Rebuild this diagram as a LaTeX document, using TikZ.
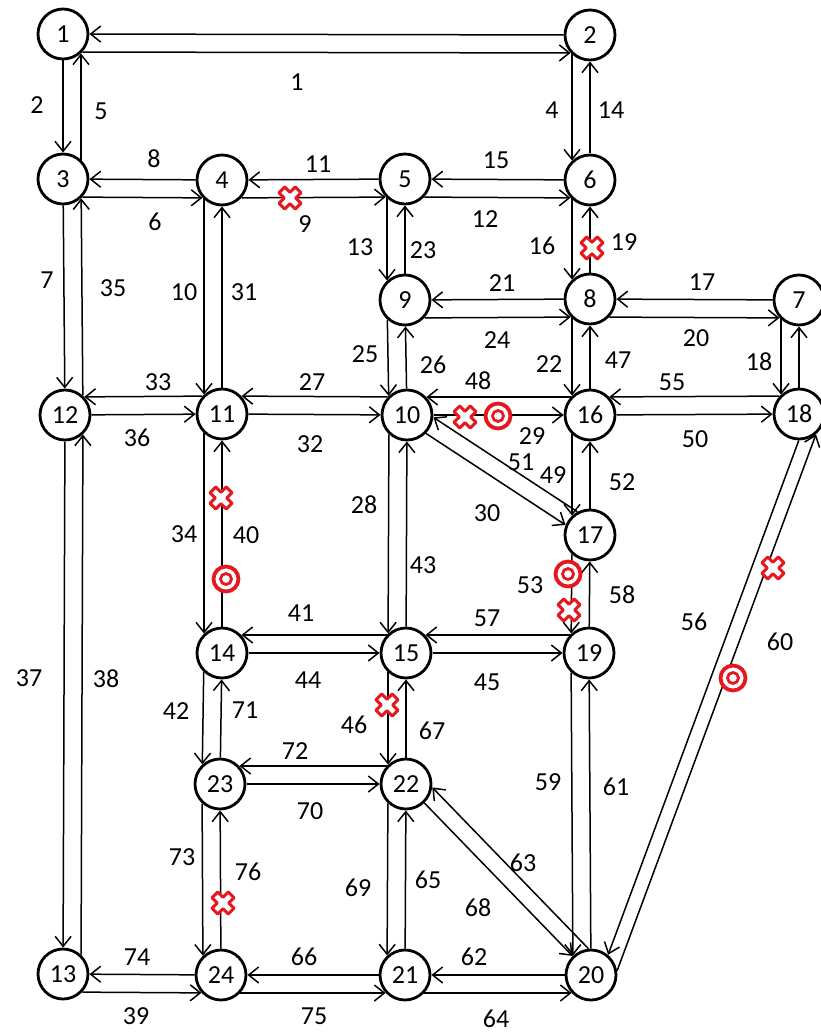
\documentclass[tikz,border=0pt]{standalone}
\usepackage{fontspec}
\setmainfont{Carlito}
\usetikzlibrary{calc,arrows.meta}
\definecolor{mk}{RGB}{228,24,30}
\newcommand\myR{26.5}
\newcommand\lnk[3]{%
  \pgfmathsetmacro\myS{sqrt(\myR*\myR-(#3)*(#3))}%
  \draw[lk] ($($(#1)!\myS pt!(#2)$)!#3pt!-90:(#2)$) -- ($($(#2)!\myS pt!(#1)$)!#3pt!90:(#1)$);}
\newcommand\pairlink[4]{\lnk{#1}{#2}{#3}\lnk{#2}{#1}{#4}}
\newcommand\xmk[2]{\begin{scope}[shift={(#1,#2)},rotate=45]
  \draw[draw=mk,line width=3pt,fill=white,line join=round] (4,4)--(11.5,4)--(11.5,-4)--(4,-4)--(4,-11.5)--(-4,-11.5)--(-4,-4)--(-11.5,-4)--(-11.5,4)--(-4,4)--(-4,11.5)--(4,11.5)--cycle;
  \end{scope}}
\newcommand\omk[2]{\draw[draw=mk,line width=3.8pt,fill=white] (#1,#2) circle[radius=12.5];
  \draw[draw=mk,line width=2.8pt] (#1,#2) circle[radius=5.5];}
\begin{document}
\begin{tikzpicture}[x=1pt,y=-1pt,
  nd/.style={circle,draw,line width=2.8pt,minimum size=50pt,inner sep=0pt,font=\fontsize{26}{26}\selectfont},
  lk/.style={line width=1.5pt,-{Straight Barb[length=10pt,width=16pt,line width=1.5pt]}},
  lb/.style={font=\fontsize{26}{26}\selectfont,inner sep=0pt}]
\useasboundingbox (0,0) rectangle (820,1035);
% nodes
\node[nd] (n1) at (63,34) {1};
\node[nd] (n2) at (590,35) {2};
\node[nd] (n3) at (63,179) {3};
\node[nd] (n4) at (222,180) {4};
\node[nd] (n5) at (405,179) {5};
\node[nd] (n6) at (590,180) {6};
\node[nd] (n7) at (799,300) {7};
\node[nd] (n8) at (590,299) {8};
\node[nd] (n9) at (405,300) {9};
\node[nd] (n10) at (407,415) {10};
\node[nd] (n11) at (222,414) {11};
\node[nd] (n12) at (65,415) {12};
\node[nd] (n13) at (63,974) {13};
\node[nd] (n14) at (222,653) {14};
\node[nd] (n15) at (406,653) {15};
\node[nd] (n16) at (590,415) {16};
\node[nd] (n17) at (590,535) {17};
\node[nd] (n18) at (799,414) {18};
\node[nd] (n19) at (589,653) {19};
\node[nd] (n20) at (591,975) {20};
\node[nd] (n21) at (405,975) {21};
\node[nd] (n22) at (406,784) {22};
\node[nd] (n23) at (220,784) {23};
\node[nd] (n24) at (221,975) {24};
% horizontal, second line below
\pairlink{n1}{n2}{18}{0}
\pairlink{n3}{n4}{18}{0}
\pairlink{n4}{n5}{18}{0}
\pairlink{n5}{n6}{18}{0}
\pairlink{n9}{n8}{18}{0}
\pairlink{n8}{n7}{18}{0}
\pairlink{n13}{n24}{18}{0}
\pairlink{n24}{n21}{18}{0}
\pairlink{n21}{n20}{18}{0}
% horizontal, second line above
\pairlink{n12}{n11}{0}{18}
\pairlink{n11}{n10}{0}{18}
\pairlink{n10}{n16}{0}{18}
\pairlink{n16}{n18}{0}{18}
\pairlink{n14}{n15}{0}{18}
\pairlink{n15}{n19}{0}{18}
\pairlink{n23}{n22}{0}{18}
% vertical, second line left
\pairlink{n2}{n6}{18}{0}
\pairlink{n4}{n11}{18}{0}
\pairlink{n5}{n9}{18}{0}
\pairlink{n6}{n8}{18}{0}
\pairlink{n9}{n10}{18}{0}
\pairlink{n8}{n16}{18}{0}
\pairlink{n7}{n18}{18}{0}
\pairlink{n11}{n14}{18}{0}
\pairlink{n10}{n15}{18}{0}
\pairlink{n16}{n17}{18}{0}
\pairlink{n17}{n19}{18}{0}
\pairlink{n14}{n23}{18}{0}
\pairlink{n15}{n22}{18}{0}
\pairlink{n19}{n20}{18}{0}
\pairlink{n23}{n24}{18}{0}
\pairlink{n22}{n21}{18}{0}
% vertical, second line right
\pairlink{n1}{n3}{0}{18}
\pairlink{n3}{n12}{0}{18}
\pairlink{n12}{n13}{0}{18}
% diagonals
\pairlink{n10}{n17}{5}{12.5}
\pairlink{n22}{n20}{0}{16.5}
\pairlink{n18}{n20}{-9}{23}
% labels
\node[lb] (l1) at (297,82) {1};
\node[lb] (l2) at (37,105) {2};
\node[lb] (l5) at (101,111) {5};
\node[lb] (l4) at (552,110) {4};
\node[lb] (l14) at (611,110) {14};
\node[lb] (l8) at (154,159) {8};
\node[lb] (l11) at (318,164) {11};
\node[lb] (l15) at (496,160) {15};
\node[lb] (l6) at (155,222) {6};
\node[lb] (l9) at (305,224) {9};
\node[lb] (l12) at (485,219) {12};
\node[lb] (l13) at (360,247) {13};
\node[lb] (l23) at (423,250) {23};
\node[lb] (l16) at (542,246) {16};
\node[lb] (l19) at (624,242) {19};
\node[lb] (l7) at (47,280) {7};
\node[lb] (l35) at (113,288) {35};
\node[lb] (l10) at (184,292) {10};
\node[lb] (l31) at (244,292) {31};
\node[lb] (l21) at (502,283) {21};
\node[lb] (l17) at (702,282) {17};
\node[lb] (l24) at (497,340) {24};
\node[lb] (l20) at (696,338) {20};
\node[lb] (l25) at (365,354) {25};
\node[lb] (l26) at (433,365) {26};
\node[lb] (l22) at (549,364) {22};
\node[lb] (l47) at (618,360) {47};
\node[lb] (l18) at (759,362) {18};
\node[lb] (l33) at (158,382) {33};
\node[lb] (l27) at (312,382) {27};
\node[lb] (l48) at (478,381) {48};
\node[lb] (l55) at (672,382) {55};
\node[lb] (l36) at (137,438) {36};
\node[lb] (l32) at (310,444) {32};
\node[lb] (l29) at (532,436) {29};
\node[lb] (l50) at (695,439) {50};
\node[lb] (l51) at (521,462) {51};
\node[lb] (l49) at (553,475) {49};
\node[lb] (l52) at (622,482) {52};
\node[lb] (l28) at (364,505) {28};
\node[lb] (l30) at (487,513) {30};
\node[lb] (l34) at (184,534) {34};
\node[lb] (l40) at (246,535) {40};
\node[lb] (l43) at (423,565) {43};
\node[lb] (l53) at (530,585) {53};
\node[lb] (l58) at (622,595) {58};
\node[lb] (l56) at (694,622) {56};
\node[lb] (l60) at (780,642) {60};
\node[lb] (l41) at (301,613) {41};
\node[lb] (l57) at (487,618) {57};
\node[lb] (l37) at (29,678) {37};
\node[lb] (l38) at (106,679) {38};
\node[lb] (l44) at (308,680) {44};
\node[lb] (l45) at (487,682) {45};
\node[lb] (l42) at (176,711) {42};
\node[lb] (l71) at (245,710) {71};
\node[lb] (l46) at (354,725) {46};
\node[lb] (l67) at (432,731) {67};
\node[lb] (l72) at (295,751) {72};
\node[lb] (l59) at (548,782) {59};
\node[lb] (l61) at (616,787) {61};
\node[lb] (l70) at (310,811) {70};
\node[lb] (l63) at (523,863) {63};
\node[lb] (l73) at (182,857) {73};
\node[lb] (l76) at (248,872) {76};
\node[lb] (l69) at (358,888) {69};
\node[lb] (l65) at (428,880) {65};
\node[lb] (l68) at (478,908) {68};
\node[lb] (l74) at (137,957) {74};
\node[lb] (l66) at (304,957) {66};
\node[lb] (l62) at (474,957) {62};
\node[lb] (l39) at (136,1016) {39};
\node[lb] (l75) at (314,1016) {75};
\node[lb] (l64) at (496,1019) {64};
% markers
\xmk{290}{198}
\xmk{592}{248}
\xmk{465}{417}
\xmk{221}{498}
\xmk{569}{610}
\xmk{773}{568}
\xmk{387}{705}
\xmk{223}{903}
\omk{498}{416}
\omk{568}{574}
\omk{226}{579}
\omk{733}{678}
\end{tikzpicture}
\end{document}
